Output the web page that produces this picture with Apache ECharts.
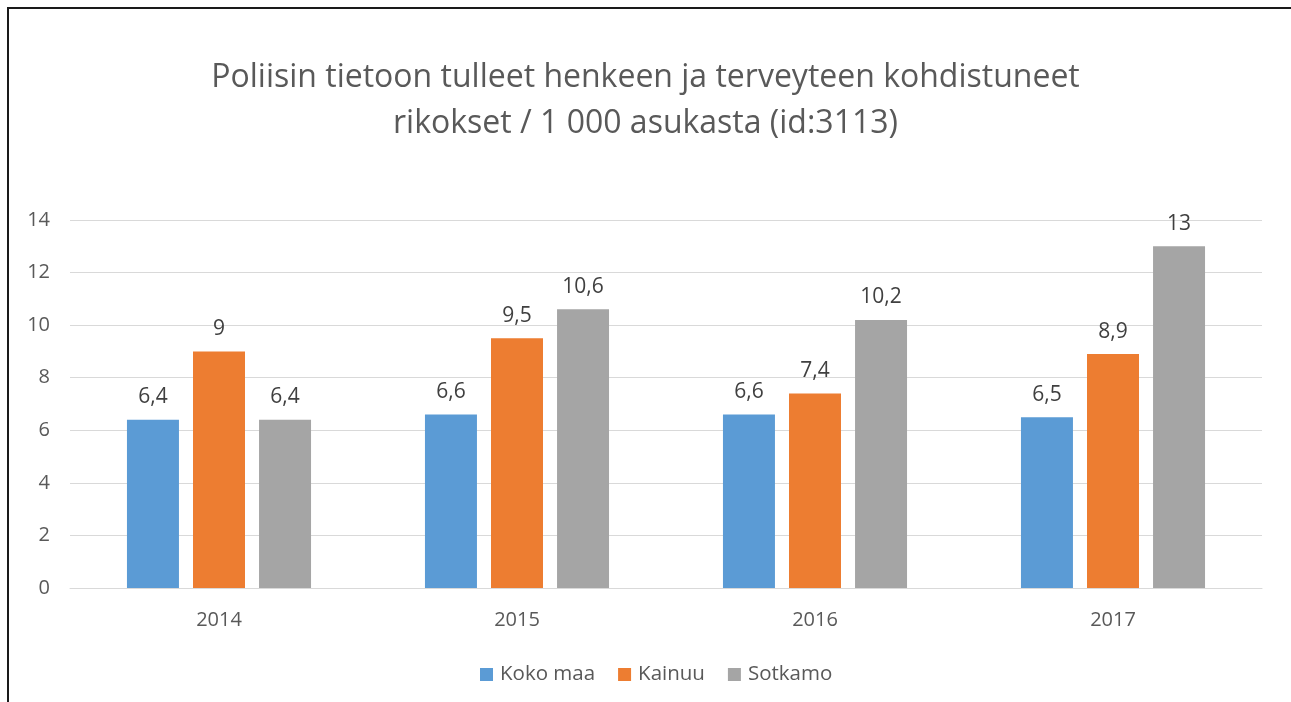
<!DOCTYPE html>
<html>
<head>
<meta charset="utf-8">
<script src="https://cdn.jsdelivr.net/npm/echarts@6/dist/echarts.min.js"></script>
<style>
  html, body { margin: 0; padding: 0; background: #fff; overflow: hidden; }
  #frame {
    position: absolute; left: 7px; top: 7px; width: 1300px; height: 720px;
    border-left: 2px solid #1a1a1a; border-top: 2px solid #1a1a1a;
  }
  #main { position: absolute; left: 0; top: 0; width: 1291px; height: 702px; }
</style>
</head>
<body>
<div id="frame"></div>
<div id="main"></div>
<script>
const years = ['2014', '2015', '2016', '2017']
const kokoMaa = [6.4, 6.6, 6.6, 6.5]
const kainuu = [9, 9.5, 7.4, 8.9]
const sotkamo = [6.4, 10.6, 10.2, 13]
const seriesNames = ['Koko maa', 'Kainuu', 'Sotkamo']

const fontFamily = '"Open Sans", "Noto Sans", sans-serif'

let chartDom = document.getElementById('main')
let myChart = echarts.init(chartDom)

const labelStyle = {
  show: true,
  position: 'top',
  distance: 12,
  color: '#404040',
  fontSize: 21,
  fontFamily: fontFamily,
  formatter: p => String(p.value).replace('.', ',')
}

function bar(name, data, color) {
  return {
    name: name,
    type: 'bar',
    data: data,
    barWidth: 52,
    barGap: '27%',
    itemStyle: { color: color },
    label: labelStyle
  }
}

let option = {
  animation: false,
  title: {
    text: 'Poliisin tietoon tulleet henkeen ja terveyteen kohdistuneet\nrikokset / 1 000 asukasta (id:3113)',
    left: 'center',
    top: 50,
    textStyle: {
      color: '#595959',
      fontSize: 32,
      fontWeight: 'normal',
      fontFamily: fontFamily,
      lineHeight: 46
    }
  },
  legend: {
    data: seriesNames,
    top: 659,
    left: 475,
    itemWidth: 13,
    itemHeight: 13,
    itemGap: 23,
    icon: 'rect',
    textStyle: { color: '#595959', fontSize: 20.5, fontFamily: fontFamily, padding: [0, 0, 0, 2] }
  },
  grid: {
    left: 70,
    right: 29,
    top: 220,
    bottom: 114
  },
  xAxis: {
    type: 'category',
    data: years,
    axisLine: { lineStyle: { color: '#d9d9d9' } },
    axisTick: { show: false },
    axisLabel: { color: '#595959', fontSize: 20, fontFamily: fontFamily, margin: 22 }
  },
  yAxis: {
    type: 'value',
    min: 0,
    max: 14,
    interval: 2,
    axisLine: { show: false },
    axisTick: { show: false },
    splitLine: { lineStyle: { color: '#d9d9d9' } },
    axisLabel: { color: '#595959', fontSize: 20, fontFamily: fontFamily, margin: 20 }
  },
  series: [
    bar(seriesNames[0], kokoMaa, '#5b9bd5'),
    bar(seriesNames[1], kainuu, '#ed7d31'),
    bar(seriesNames[2], sotkamo, '#a5a5a5')
  ]
}

option && myChart.setOption(option)
</script>
</body>
</html>
